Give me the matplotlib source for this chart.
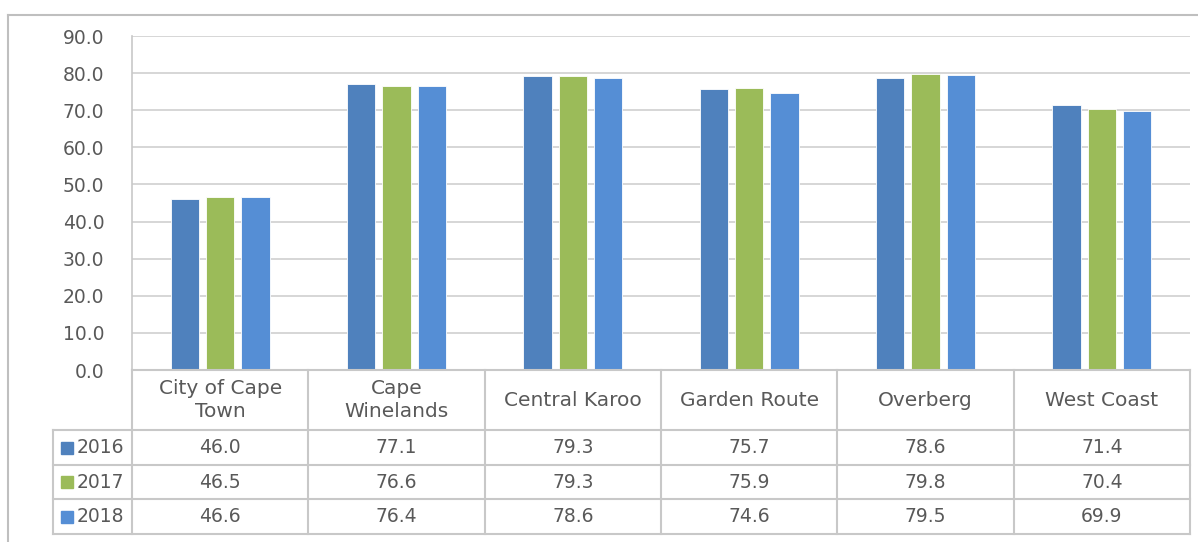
import numpy as np
import matplotlib.pyplot as plt
from matplotlib.lines import Line2D
from matplotlib.patches import Rectangle

# Data
regions = ['City of Cape\nTown', 'Cape\nWinelands', 'Central Karoo',
           'Garden Route', 'Overberg', 'West Coast']
years = ['2016', '2017', '2018']
v2016 = [46.0, 77.1, 79.3, 75.7, 78.6, 71.4]
v2017 = [46.5, 76.6, 79.3, 75.9, 79.8, 70.4]
v2018 = [46.6, 76.4, 78.6, 74.6, 79.5, 69.9]
series = [v2016, v2017, v2018]
colors = ['#4F81BD', '#9BBB59', '#558ED5']

plt.rcParams['font.family'] = ['DejaVu Sans']
text_color = '#595959'
line_color = '#C8C8C8'

W, H = 1198, 542
fig = plt.figure(figsize=(W / 100, H / 100), dpi=100)

# plot area in pixels
left_px, right_px, top_px, bottom_px = 132, 1190, 36, 370
ax = fig.add_axes([left_px / W, 1 - bottom_px / H,
                   (right_px - left_px) / W, (bottom_px - top_px) / H])

x = np.arange(len(regions))
bw = 0.16
offsets = [-0.2, 0.0, 0.2]
for vals, off, c in zip(series, offsets, colors):
    ax.bar(x + off, vals, width=bw, color=c, edgecolor='white', linewidth=0.6, zorder=3)

ax.set_xlim(-0.5, len(regions) - 0.5)
ax.set_ylim(0, 90)
ax.set_yticks(np.arange(0, 91, 10))
ax.set_yticklabels([f'{t:.1f}' for t in np.arange(0, 91, 10)], color=text_color, fontsize=13.5)
ax.set_xticks([])
ax.tick_params(axis='y', length=0, pad=20)
ax.grid(axis='y', color='#D0D0D0', linewidth=1.2, zorder=0)
for s in ['top', 'right', 'bottom']:
    ax.spines[s].set_visible(False)
ax.spines['left'].set_color(line_color)
ax.spines['left'].set_linewidth(1.2)

# Data table below the axes (pixel layout converted to figure fractions)
def fx(px):
    return px / W

def fy(py):
    return 1 - py / H

col_edges = [left_px + i * (right_px - left_px) / len(regions) for i in range(len(regions) + 1)]
row_edges = [370, 430, 465, 499, 534]
legend_left = 53

lw = 1.5
# horizontal lines
fig.add_artist(Line2D([fx(left_px), fx(right_px)], [fy(row_edges[0])] * 2, color=line_color, lw=lw))
for ry in row_edges[1:]:
    fig.add_artist(Line2D([fx(legend_left), fx(right_px)], [fy(ry)] * 2, color=line_color, lw=lw))
# vertical lines
for cx in col_edges:
    fig.add_artist(Line2D([fx(cx)] * 2, [fy(row_edges[0]), fy(row_edges[-1])], color=line_color, lw=lw))
fig.add_artist(Line2D([fx(legend_left)] * 2, [fy(row_edges[1]), fy(row_edges[-1])], color=line_color, lw=lw))

# header labels
for i, name in enumerate(regions):
    cx = (col_edges[i] + col_edges[i + 1]) / 2
    cy = (row_edges[0] + row_edges[1]) / 2
    fig.text(fx(cx), fy(cy), name, ha='center', va='center', color=text_color,
             fontsize=14.5, linespacing=1.3)

# rows
for r, (yr, vals, c) in enumerate(zip(years, series, colors)):
    cy = (row_edges[r + 1] + row_edges[r + 2]) / 2
    fig.add_artist(Rectangle((fx(61), fy(cy + 6)), 12 / W, 12 / H, color=c,
                             transform=fig.transFigure))
    fig.text(fx(77), fy(cy), yr, ha='left', va='center', color=text_color, fontsize=13.5)
    for i, v in enumerate(vals):
        cx = (col_edges[i] + col_edges[i + 1]) / 2
        fig.text(fx(cx), fy(cy), f'{v:.1f}', ha='center', va='center', color=text_color,
                 fontsize=13.5)

# outer chart border (top and left visible)
fig.add_artist(Line2D([fx(8), fx(1198)], [fy(15)] * 2, color='#BFBFBF', lw=1.5))
fig.add_artist(Line2D([fx(8)] * 2, [fy(15), fy(542)], color='#BFBFBF', lw=1.5))

fig.savefig('out.png', dpi=100)
